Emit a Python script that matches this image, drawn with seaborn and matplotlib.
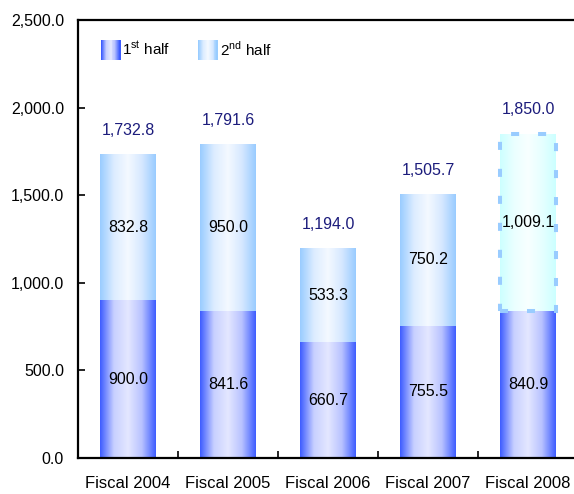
import numpy as np
import pandas as pd
import matplotlib
matplotlib.use('Agg')
import matplotlib.pyplot as plt
import seaborn as sns
from matplotlib.colors import LinearSegmentedColormap
from matplotlib.patches import Rectangle
from matplotlib.legend_handler import HandlerBase

# Dados do gráfico
categorias = ['Fiscal 2004', 'Fiscal 2005', 'Fiscal 2006', 'Fiscal 2007', 'Fiscal 2008']
primeira_metade = [900.0, 841.6, 660.7, 755.5, 840.9]
segunda_metade = [832.8, 950.0, 533.3, 750.2, 1009.1]
totais = [a + b for a, b in zip(primeira_metade, segunda_metade)]
legenda = [r'1$^{\rm st}$ half', r'2$^{\rm nd}$ half']

sns.set_style('white')
plt.rcParams['font.family'] = ['Liberation Sans', 'DejaVu Sans']
plt.rcParams['mathtext.fontset'] = 'custom'
plt.rcParams['mathtext.rm'] = 'Liberation Sans'
plt.rcParams['text.color'] = 'black'
plt.rcParams['xtick.color'] = 'black'
plt.rcParams['ytick.color'] = 'black'

# gradientes horizontais (borda escura, centro claro)
cmap_1 = LinearSegmentedColormap.from_list('h1', ['#3d5cff', '#c8d0ff', '#e4e7ff', '#b8c2ff', '#3d5cff'])
cmap_2 = LinearSegmentedColormap.from_list('h2', ['#99ccff', '#dcecff', '#f4f9ff', '#d6e8ff', '#99ccff'])
cmap_3 = LinearSegmentedColormap.from_list('h3', ['#ccffff', '#eaffff', '#f8ffff', '#e6ffff', '#ccffff'])
grad = np.linspace(0, 1, 256).reshape(1, -1)

df = pd.DataFrame({'cat': categorias, 'first': primeira_metade, 'total': totais})

fig = plt.figure(figsize=(5.74, 4.94), dpi=100)
ax = fig.add_axes([78 / 574, 36 / 494, 500 / 574, 438 / 494])

sns.barplot(data=df, x='cat', y='total', color='#99ccff', width=0.56, ax=ax)
sns.barplot(data=df, x='cat', y='first', color='#3d5cff', width=0.56, ax=ax)

barras_total = ax.patches[:5]
barras_primeira = ax.patches[5:10]

for i, (pt, p1) in enumerate(zip(barras_total, barras_primeira)):
    x0, w = p1.get_x(), p1.get_width()
    h1 = p1.get_height()
    ht = pt.get_height()
    pt.set_visible(False)
    p1.set_visible(False)
    ax.imshow(grad, cmap=cmap_1, aspect='auto', extent=(x0, x0 + w, 0, h1), zorder=2)
    if i == len(categorias) - 1:
        ax.imshow(grad, cmap=cmap_3, aspect='auto', extent=(x0, x0 + w, h1, ht), zorder=2)
        ax.add_patch(Rectangle((x0, h1), w, ht - h1, fill=False, edgecolor='#99ccff',
                               lw=2.9, linestyle=(0, (2.0, 4.7)), zorder=3))
    else:
        ax.imshow(grad, cmap=cmap_2, aspect='auto', extent=(x0, x0 + w, h1, ht), zorder=2)
    xc = x0 + w / 2
    ax.text(xc, h1 / 2, f'{primeira_metade[i]:,.1f}', ha='center', va='center', fontsize=11.5, zorder=4)
    ax.text(xc, h1 + (ht - h1) / 2, f'{segunda_metade[i]:,.1f}', ha='center', va='center', fontsize=11.5, zorder=4)
    ax.text(xc, ht + 137, f'{totais[i]:,.1f}', ha='center', va='center', fontsize=11.5, color='#1c1c7c', zorder=4)

ax.set_xlim(-0.5, 4.5)
ax.set_ylim(0, 2500)
ax.set_yticks(np.arange(0, 2501, 500))
ax.set_yticklabels([f'{v:,.1f}' for v in np.arange(0, 2501, 500)], fontsize=11.5)
ax.set_xticks(range(len(categorias)))
ax.set_xticklabels(categorias, fontsize=12)
ax.set_xticks([0.5, 1.5, 2.5, 3.5], minor=True)
ax.tick_params(axis='x', which='major', length=0, pad=13)
ax.tick_params(axis='x', which='minor', direction='in', length=5, width=1.2, bottom=True)
ax.tick_params(axis='y', direction='in', length=5, width=1.2, pad=10, left=True)
ax.set_xlabel('')
ax.set_ylabel('')
for s in ax.spines.values():
    s.set_linewidth(1.6)
    s.set_color('black')


class HandlerGradiente(HandlerBase):
    def __init__(self, cmap):
        super().__init__()
        self.cmap = cmap

    def create_artists(self, legend, orig_handle, xdescent, ydescent, width, height, fontsize, trans):
        n = 20
        artistas = []
        for k in range(n):
            r = Rectangle((-xdescent + width * k / n, -ydescent), width / n + 0.3, height,
                          facecolor=self.cmap(k / (n - 1)), edgecolor='none', transform=trans)
            artistas.append(r)
        return artistas


h1 = Rectangle((0, 0), 1, 1)
h2 = Rectangle((0, 0), 1, 1)
ax.legend([h1, h2], legenda, handler_map={h1: HandlerGradiente(cmap_1), h2: HandlerGradiente(cmap_2)},
          loc='upper left', bbox_to_anchor=(0.046, 0.955), ncol=2, frameon=False,
          fontsize=11, handlelength=1.25, handleheight=1.64, handletextpad=0.15,
          columnspacing=1.8, borderpad=0, borderaxespad=0)

fig.savefig('out.png', dpi=100)
